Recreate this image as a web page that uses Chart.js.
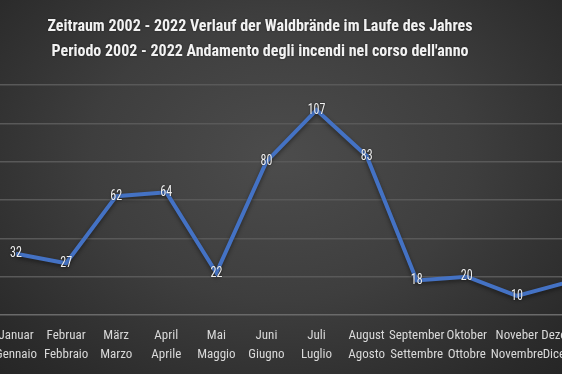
<!DOCTYPE html>
<html>
<head>
<meta charset="utf-8">
<script src="https://cdn.jsdelivr.net/npm/chart.js@4.4.1/dist/chart.umd.min.js"></script>
<style>
  html, body { margin: 0; padding: 0; width: 562px; height: 374px; overflow: hidden; }
  body { background: radial-gradient(ellipse 75% 85% at 50% 42%, #4c4c4c 0%, #3e3e3e 45%, #2a2a2a 85%, #242424 100%); position: relative; }
  #c { position: absolute; left: -9px; top: 0; }
</style>
</head>
<body>
<canvas id="c" width="601" height="374"></canvas>
<script>
const titleLines = [
  "Zeitraum 2002 - 2022 Verlauf der Waldbrände im Laufe des Jahres",
  "Periodo 2002 - 2022 Andamento degli incendi nel corso dell'anno"
];
const monthsDE = ["Januar","Februar","März","April","Mai","Juni","Juli","August","September","Oktober","Noveber","Dezember"];
const monthsIT = ["Gennaio","Febbraio","Marzo","Aprile","Maggio","Giugno","Luglio","Agosto","Settembre","Ottobre","Novembre","Dicembre"];
const fires = [32, 27, 62, 64, 22, 80, 107, 83, 18, 20, 10, 17];
const yMin = 0, yMax = 120, yStep = 20;

const FONT = "'Roboto Condensed', 'Open Sans Condensed', sans-serif";

const labels = monthsDE.map((d, i) => [d, monthsIT[i]]);

const titlePlugin = {
  id: 'customTitle',
  afterDraw(chart) {
    const ctx = chart.ctx;
    ctx.save();
    ctx.fillStyle = '#f2f2f2';
    ctx.font = 'bold 16px ' + FONT;
    ctx.textAlign = 'center';
    ctx.textBaseline = 'middle';
    ctx.shadowColor = 'rgba(0,0,0,0.5)';
    ctx.shadowBlur = 2;
    ctx.fillText(titleLines[0], 269, 27);
    ctx.fillText(titleLines[1], 269, 51.5);
    ctx.restore();
  }
};

const valueLabels = {
  id: 'valueLabels',
  afterDatasetsDraw(chart) {
    const ctx = chart.ctx;
    const meta = chart.getDatasetMeta(0);
    ctx.save();
    ctx.font = '15px ' + FONT;
    ctx.fillStyle = '#f0f0f0';
    ctx.textAlign = 'center';
    ctx.textBaseline = 'middle';
    ctx.shadowColor = 'rgba(0,0,0,0.6)';
    ctx.shadowBlur = 2;
    meta.data.forEach((pt, i) => {
      ctx.save();
      ctx.translate(pt.x, pt.y);
      ctx.scale(0.8, 1);
      ctx.fillText(String(chart.data.datasets[0].data[i]), 0, 0);
      ctx.restore();
    });
    ctx.restore();
  }
};

const lineShadow = {
  id: 'lineShadow',
  beforeDatasetDraw(chart) {
    chart.ctx.save();
    chart.ctx.shadowColor = 'rgba(0,0,0,0.45)';
    chart.ctx.shadowBlur = 4;
    chart.ctx.shadowOffsetY = 2;
  },
  afterDatasetDraw(chart) {
    chart.ctx.restore();
  }
};

new Chart(document.getElementById('c'), {
  type: 'line',
  data: {
    labels: labels,
    datasets: [{
      data: fires,
      borderColor: '#4472C4',
      borderWidth: 4,
      tension: 0,
      pointRadius: 0,
      fill: false
    }]
  },
  options: {
    responsive: false,
    animation: false,
    devicePixelRatio: 1,
    layout: { padding: { top: 85, left: 0, right: 0, bottom: 0 } },
    plugins: { legend: { display: false }, title: { display: false }, tooltip: { enabled: false } },
    scales: {
      x: {
        offset: true,
        grid: { display: false, drawTicks: false },
        border: { display: false },
        ticks: {
          color: '#d9d9d9',
          font: { family: FONT, size: 13, lineHeight: 1.42 },
          padding: 12,
          maxRotation: 0,
          autoSkip: false
        },
        afterFit(scale) { scale.height = 59; scale.paddingLeft = 0; scale.paddingRight = 0; }
      },
      y: {
        min: yMin, max: yMax,
        ticks: { display: false, stepSize: yStep },
        grid: {
          color: (c) => c.tick && c.tick.value === 0 ? '#6a6a6a' : '#595959',
          lineWidth: 1.5,
          drawTicks: false
        },
        border: { display: false },
        afterFit(scale) { scale.width = 0; }
      }
    }
  },
  plugins: [lineShadow, valueLabels, titlePlugin]
});
</script>
</body>
</html>
